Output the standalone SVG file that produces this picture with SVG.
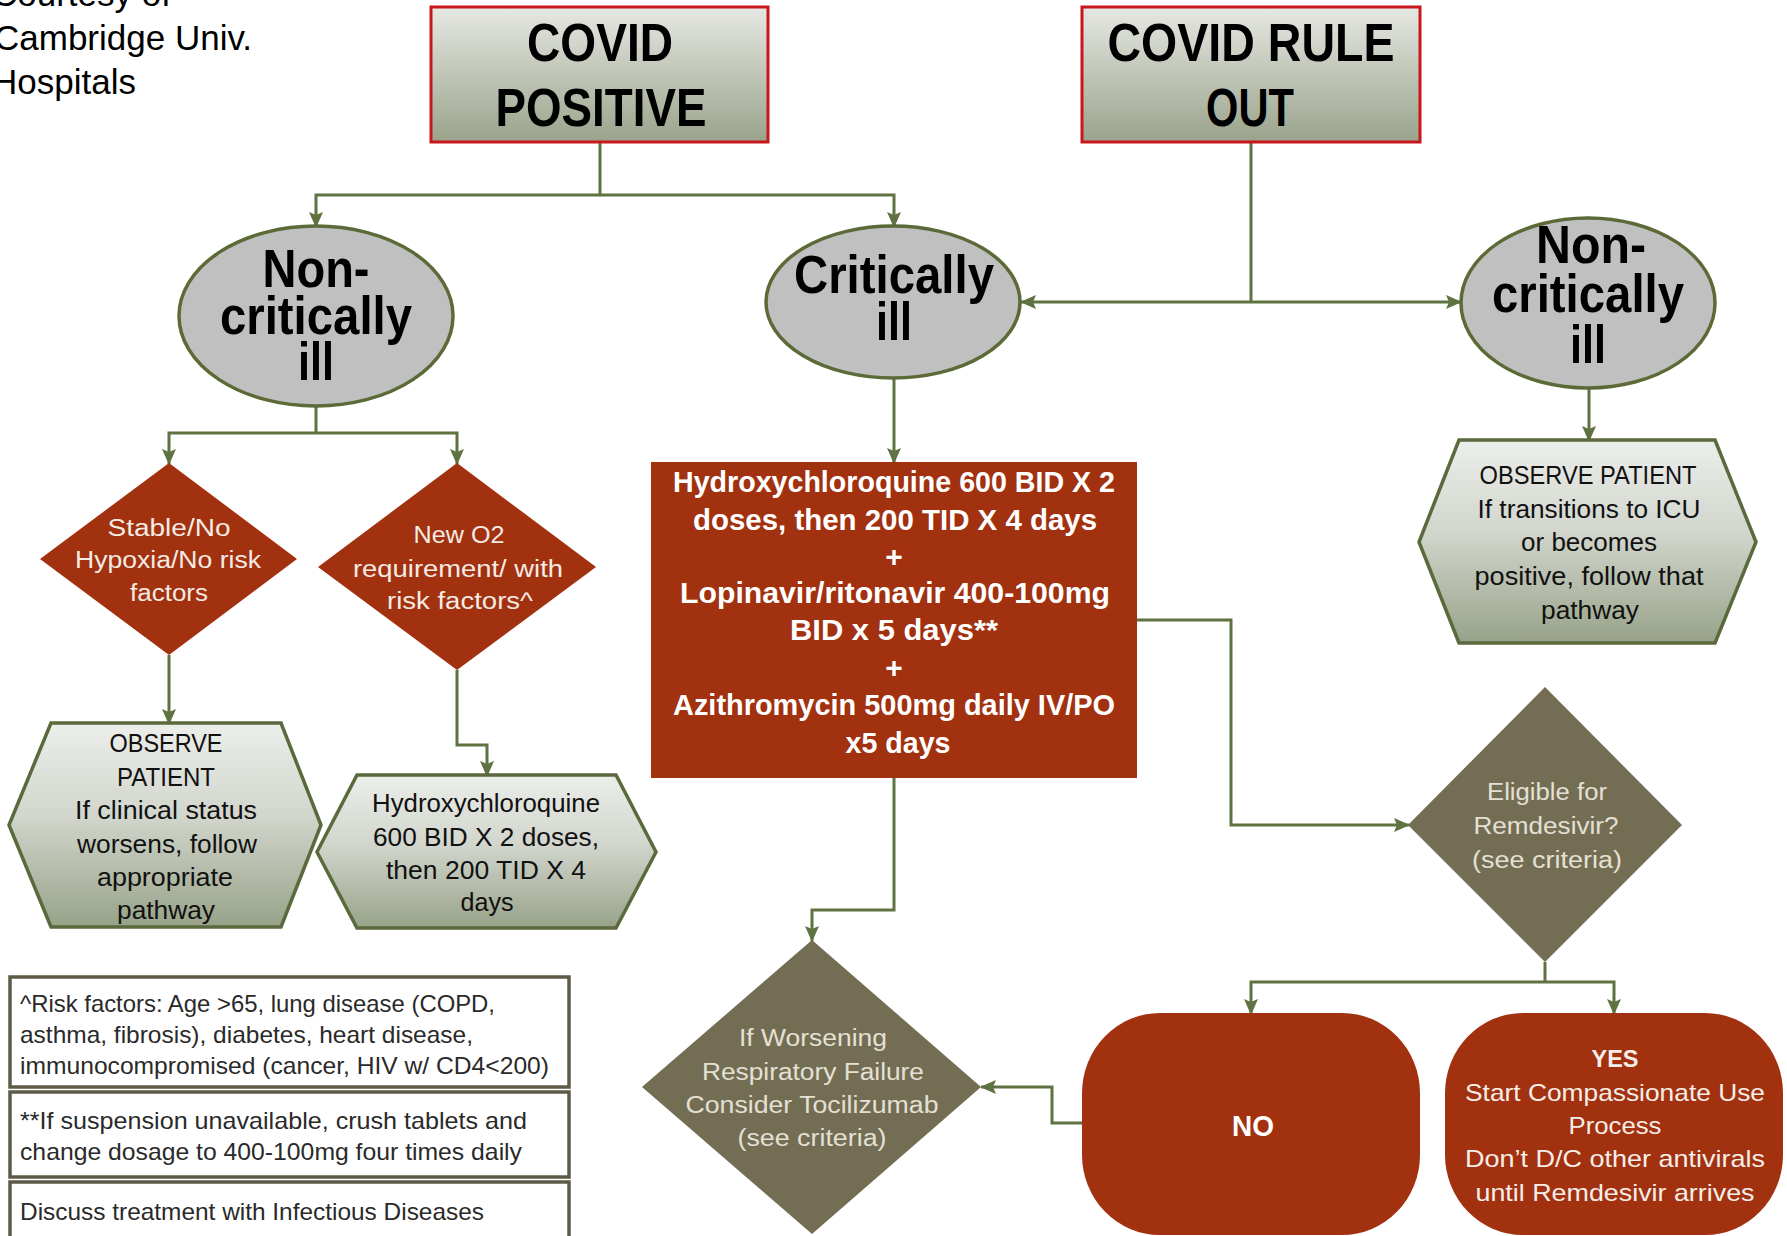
<svg xmlns="http://www.w3.org/2000/svg" width="1787" height="1236" viewBox="0 0 1787 1236">
<defs>
<linearGradient id="gTitle" x1="0" y1="0" x2="0" y2="1">
<stop offset="0" stop-color="#e6e8e3"/><stop offset="1" stop-color="#9aa38b"/>
</linearGradient>
<linearGradient id="gHex" x1="0" y1="0" x2="0" y2="1">
<stop offset="0" stop-color="#eceeea"/><stop offset="0.45" stop-color="#d2d6cd"/><stop offset="1" stop-color="#98a288"/>
</linearGradient>
<marker id="arr" markerUnits="userSpaceOnUse" markerWidth="16" markerHeight="16" viewBox="0 0 16 16" refX="15" refY="8" orient="auto">
<path d="M0,1 L16,8 L0,15 L3,8 z" fill="#5f7241"/>
</marker>
<style>
.title{fill:url(#gTitle);stroke:#c8161d;stroke-width:3}
.ell{fill:#c0c0c0;stroke:#5b6a37;stroke-width:3.5}
.hex{fill:url(#gHex);stroke:#5b6a3c;stroke-width:3.5}
.red{fill:#a2310f}
.olive{fill:#736d54}
.leg{fill:#ffffff;stroke:#5d5b47;stroke-width:3.5}
.con{fill:none;stroke:#5f7241;stroke-width:3}
.arr{marker-end:url(#arr)}
text{font-family:"Liberation Sans",Arial,sans-serif}
.big{font-weight:bold;font-size:54px;fill:#000;text-anchor:middle}
.rb{font-weight:bold;font-size:30px;fill:#ffffff;text-anchor:middle;dominant-baseline:central}
.hx{font-size:25px;fill:#111;text-anchor:middle;dominant-baseline:central}
.dr{font-size:23px;fill:#f4ebe4;text-anchor:middle;dominant-baseline:central}
.dol{font-size:23px;fill:#e4e0d4;text-anchor:middle;dominant-baseline:central}
.yes{font-size:24px;fill:#f6eee8;text-anchor:middle;dominant-baseline:central}
.lg{font-size:24px;fill:#2a2a2a;dominant-baseline:central}
.court{font-size:35px;fill:#000}
</style>
</defs>
<rect width="1787" height="1236" fill="#ffffff"/>

<g id="credit">
<text class="court" x="-8" y="6">Courtesy of</text>
<text class="court" x="-6" y="50">Cambridge Univ.</text>
<text class="court" x="-8" y="94">Hospitals</text>
</g>

<g id="connectors">
<path class="con" d="M600,142 V195"/>
<path class="con arr" d="M600,195 H316 V227"/>
<path class="con arr" d="M600,195 H894 V227"/>
<path class="con" d="M1251,142 V302"/>
<path class="con arr" d="M1251,302 H1021"/>
<path class="con arr" d="M1251,302 H1461"/>
<path class="con" d="M316,406 V433"/>
<path class="con arr" d="M316,433 H169 V464"/>
<path class="con arr" d="M316,433 H457 V464"/>
<path class="con arr" d="M169,655 V724"/>
<path class="con arr" d="M457,670 V745 H487 V776"/>
<path class="con arr" d="M894,378 V463"/>
<path class="con arr" d="M1589,388 V441"/>
<path class="con arr" d="M1137,620 H1231 V825 H1409"/>
<path class="con arr" d="M894,778 V910 H812 V941"/>
<path class="con" d="M1545,962 V982"/>
<path class="con arr" d="M1545,982 H1251 V1014"/>
<path class="con arr" d="M1545,982 H1614 V1014"/>
<path class="con arr" d="M1082,1123 H1052 V1087 H981"/>
</g>

<g id="covid-positive">
<rect class="title" x="431" y="7" width="337" height="135"/>
<text class="big" x="600" y="61" textLength="146" lengthAdjust="spacingAndGlyphs">COVID</text>
<text class="big" x="601" y="126" textLength="211" lengthAdjust="spacingAndGlyphs">POSITIVE</text>
</g>

<g id="covid-rule-out">
<rect class="title" x="1082" y="7" width="338" height="135"/>
<text class="big" x="1251" y="61" textLength="287" lengthAdjust="spacingAndGlyphs">COVID RULE</text>
<text class="big" x="1250" y="126" textLength="88" lengthAdjust="spacingAndGlyphs">OUT</text>
</g>

<g id="noncritical-left">
<ellipse class="ell" cx="316" cy="316" rx="137" ry="90"/>
<text class="big" x="316" y="287" textLength="107" lengthAdjust="spacingAndGlyphs">Non-</text>
<text class="big" x="316" y="334" textLength="192" lengthAdjust="spacingAndGlyphs">critically</text>
<text class="big" x="316" y="380" textLength="36" lengthAdjust="spacingAndGlyphs">ill</text>
</g>

<g id="critically-ill">
<ellipse class="ell" cx="893" cy="302" rx="127" ry="76"/>
<text class="big" x="894" y="293" textLength="200" lengthAdjust="spacingAndGlyphs">Critically</text>
<text class="big" x="894" y="340" textLength="36" lengthAdjust="spacingAndGlyphs">ill</text>
</g>

<g id="noncritical-right">
<ellipse class="ell" cx="1588" cy="303" rx="127" ry="85"/>
<text class="big" x="1591" y="263" textLength="110" lengthAdjust="spacingAndGlyphs">Non-</text>
<text class="big" x="1588" y="312" textLength="192" lengthAdjust="spacingAndGlyphs">critically</text>
<text class="big" x="1588" y="363" textLength="36" lengthAdjust="spacingAndGlyphs">ill</text>
</g>

<g id="stable-diamond">
<polygon class="red" points="169,463 297,559 169,655 40,559"/>
<text class="dr" x="169" y="528" textLength="123" lengthAdjust="spacingAndGlyphs">Stable/No</text>
<text class="dr" x="168" y="560" textLength="186" lengthAdjust="spacingAndGlyphs">Hypoxia/No risk</text>
<text class="dr" x="169" y="593" textLength="78" lengthAdjust="spacingAndGlyphs">factors</text>
</g>

<g id="newo2-diamond">
<polygon class="red" points="457,463 596,567 457,670 318,567"/>
<text class="dr" x="459" y="535" textLength="91" lengthAdjust="spacingAndGlyphs">New O2</text>
<text class="dr" x="458" y="569" textLength="210" lengthAdjust="spacingAndGlyphs">requirement/ with</text>
<text class="dr" x="460" y="601" textLength="146" lengthAdjust="spacingAndGlyphs">risk factors^</text>
</g>

<g id="observe-left">
<polygon class="hex" points="51,723 281,723 321,825 281,927 51,927 9,825"/>
<text class="hx" x="166" y="743" textLength="113" lengthAdjust="spacingAndGlyphs">OBSERVE</text>
<text class="hx" x="166" y="777" textLength="98" lengthAdjust="spacingAndGlyphs">PATIENT</text>
<text class="hx" x="166" y="810" textLength="182" lengthAdjust="spacingAndGlyphs">If clinical status</text>
<text class="hx" x="167" y="844" textLength="180" lengthAdjust="spacingAndGlyphs">worsens, follow</text>
<text class="hx" x="165" y="877" textLength="136" lengthAdjust="spacingAndGlyphs">appropriate</text>
<text class="hx" x="166" y="910" textLength="98" lengthAdjust="spacingAndGlyphs">pathway</text>
</g>

<g id="hcq-hex">
<polygon class="hex" points="357,775 616,775 656,852 616,928 357,928 317,852"/>
<text class="hx" x="486" y="803" textLength="228" lengthAdjust="spacingAndGlyphs">Hydroxychloroquine</text>
<text class="hx" x="486" y="837" textLength="226" lengthAdjust="spacingAndGlyphs">600 BID X 2 doses,</text>
<text class="hx" x="486" y="870" textLength="200" lengthAdjust="spacingAndGlyphs">then 200 TID X 4</text>
<text class="hx" x="487" y="902" textLength="53" lengthAdjust="spacingAndGlyphs">days</text>
</g>

<g id="critical-treatment">
<rect class="red" x="651" y="462" width="486" height="316"/>
<text class="rb" x="894" y="481" textLength="442" lengthAdjust="spacingAndGlyphs">Hydroxychloroquine 600 BID X 2</text>
<text class="rb" x="895" y="519" textLength="404" lengthAdjust="spacingAndGlyphs">doses, then 200 TID X 4 days</text>
<text class="rb" x="894" y="556">+</text>
<text class="rb" x="895" y="592" textLength="430" lengthAdjust="spacingAndGlyphs">Lopinavir/ritonavir 400-100mg</text>
<text class="rb" x="894" y="629" textLength="208" lengthAdjust="spacingAndGlyphs">BID x 5 days**</text>
<text class="rb" x="894" y="667">+</text>
<text class="rb" x="894" y="704" textLength="442" lengthAdjust="spacingAndGlyphs">Azithromycin 500mg daily IV/PO</text>
<text class="rb" x="898" y="742" textLength="105" lengthAdjust="spacingAndGlyphs">x5 days</text>
</g>

<g id="observe-right">
<polygon class="hex" points="1459,440 1715,440 1756,542 1715,643 1459,643 1419,542"/>
<text class="hx" x="1588" y="475" textLength="217" lengthAdjust="spacingAndGlyphs">OBSERVE PATIENT</text>
<text class="hx" x="1589" y="509" textLength="223" lengthAdjust="spacingAndGlyphs">If transitions to ICU</text>
<text class="hx" x="1589" y="542" textLength="136" lengthAdjust="spacingAndGlyphs">or becomes</text>
<text class="hx" x="1589" y="576" textLength="229" lengthAdjust="spacingAndGlyphs">positive, follow that</text>
<text class="hx" x="1590" y="610" textLength="98" lengthAdjust="spacingAndGlyphs">pathway</text>
</g>

<g id="eligible-diamond">
<polygon class="olive" points="1545,687 1682,825 1545,962 1408,825"/>
<text class="dol" x="1547" y="792" textLength="120" lengthAdjust="spacingAndGlyphs">Eligible for</text>
<text class="dol" x="1546" y="826" textLength="145" lengthAdjust="spacingAndGlyphs">Remdesivir?</text>
<text class="dol" x="1547" y="860" textLength="150" lengthAdjust="spacingAndGlyphs">(see criteria)</text>
</g>

<g id="tocilizumab-diamond">
<polygon class="olive" points="812,940 981,1087 812,1234 642,1087"/>
<text class="dol" x="813" y="1038" textLength="148" lengthAdjust="spacingAndGlyphs">If Worsening</text>
<text class="dol" x="813" y="1072" textLength="222" lengthAdjust="spacingAndGlyphs">Respiratory Failure</text>
<text class="dol" x="812" y="1105" textLength="253" lengthAdjust="spacingAndGlyphs">Consider Tocilizumab</text>
<text class="dol" x="812" y="1138" textLength="149" lengthAdjust="spacingAndGlyphs">(see criteria)</text>
</g>

<g id="no-node">
<rect class="red" x="1082" y="1013" width="338" height="222" rx="78" ry="80"/>
<text class="rb" x="1253" y="1125" textLength="42" lengthAdjust="spacingAndGlyphs">NO</text>
</g>

<g id="yes-node">
<rect class="red" x="1445" y="1013" width="338" height="222" rx="78" ry="80"/>
<text class="yes" x="1615" y="1058" font-weight="bold" textLength="47" lengthAdjust="spacingAndGlyphs">YES</text>
<text class="yes" x="1615" y="1092" textLength="300" lengthAdjust="spacingAndGlyphs">Start Compassionate Use</text>
<text class="yes" x="1615" y="1125" textLength="93" lengthAdjust="spacingAndGlyphs">Process</text>
<text class="yes" x="1615" y="1158" textLength="300" lengthAdjust="spacingAndGlyphs">Don’t D/C other antivirals</text>
<text class="yes" x="1615" y="1192" textLength="279" lengthAdjust="spacingAndGlyphs">until Remdesivir arrives</text>
</g>

<g id="legend-risk">
<rect class="leg" x="10" y="977" width="559" height="110"/>
<text class="lg" x="20" y="1003" textLength="475" lengthAdjust="spacingAndGlyphs">^Risk factors: Age &gt;65, lung disease (COPD,</text>
<text class="lg" x="20" y="1034" textLength="453" lengthAdjust="spacingAndGlyphs">asthma, fibrosis), diabetes, heart disease,</text>
<text class="lg" x="20" y="1065" textLength="529" lengthAdjust="spacingAndGlyphs">immunocompromised (cancer, HIV w/ CD4&lt;200)</text>
</g>

<g id="legend-suspension">
<rect class="leg" x="10" y="1092" width="559" height="85"/>
<text class="lg" x="20" y="1120" textLength="507" lengthAdjust="spacingAndGlyphs">**If suspension unavailable, crush tablets and</text>
<text class="lg" x="20" y="1151" textLength="502" lengthAdjust="spacingAndGlyphs">change dosage to 400-100mg four times daily</text>
</g>

<g id="legend-discuss">
<rect class="leg" x="10" y="1182" width="559" height="70"/>
<text class="lg" x="20" y="1211" textLength="464" lengthAdjust="spacingAndGlyphs">Discuss treatment with Infectious Diseases</text>
</g>
</svg>
